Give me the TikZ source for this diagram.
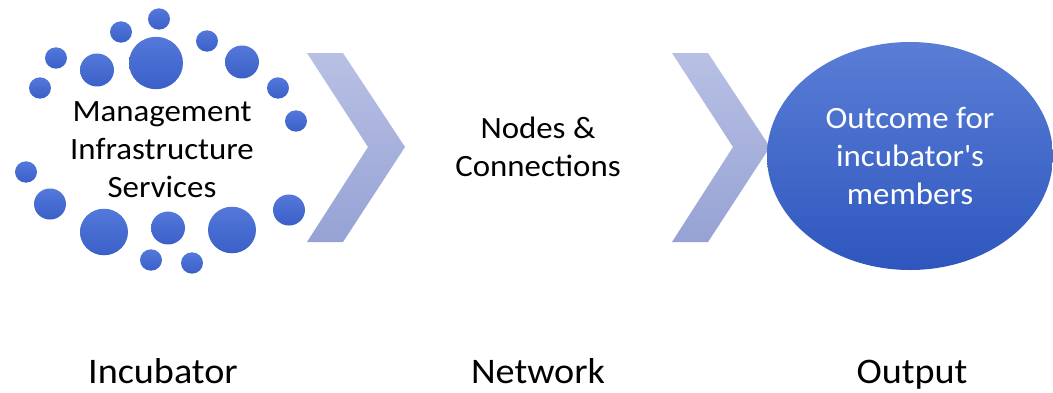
\documentclass[tikz,border=0pt]{standalone}
\usepackage{fontspec}
\setmainfont{Carlito}[FakeStretch=1.06]
\usetikzlibrary{shapes.geometric}
\definecolor{dottop}{RGB}{84,120,218}
\definecolor{dotbot}{RGB}{58,96,200}
\definecolor{chevtop}{RGB}{184,192,228}
\definecolor{chevbot}{RGB}{150,162,212}
\definecolor{outtop}{RGB}{90,126,214}
\definecolor{outbot}{RGB}{46,86,190}
\begin{document}
\begin{tikzpicture}[x=1pt,y=-1pt,
    dot/.style={top color=dottop,bottom color=dotbot},
    chev/.style={top color=chevtop,bottom color=chevbot},
    body/.style={align=center,font=\fontsize{31}{38}\selectfont},
    capt/.style={anchor=base,font=\fontsize{36}{42}\selectfont}]
    \useasboundingbox (0,0) rectangle (1053,392);
    %% Incubator dots
    \foreach \x/\y/\r in {159/19/11,121/32/11,207/41/11,156/63/27,97/70/17,
        242/62/17,56/58/11,40/88/11,278/88/11,296/121/11,26/172/11,50/204/16,
        104/232/24,168/228/17,232/230/24,289/210/16,151/260/11,192/263/11} {
        \shade[dot] (\x,\y) ellipse [x radius=\r pt,y radius=0.97*\r pt];
    }
    %% Chevrons
    \foreach \d in {0,365} {
        \shade[chev,xshift=\d pt] (307,53) -- (343,53) -- (405,147) -- (343,242)
            -- (307,242) -- (368,147) -- cycle;
    }
    %% Texts
    \node[body] (incubator) at (162,150) {Management\\Infrastructure\\Services};
    \node[body] (network) at (538,147) {Nodes \&\\Connections};
    \node[ellipse,body,text=white,top color=outtop,bottom color=outbot,
        minimum width=286pt,minimum height=228pt,inner sep=0pt]
        (output) at (910,156) {Outcome for\\incubator\textquotesingle s\\members};
    %% Captions
    \node[capt] (capinc) at (163,383) {Incubator};
    \node[capt] (capnet) at (538,383) {Network};
    \node[capt] (capout) at (912,383) {Output};
\end{tikzpicture}
\end{document}
